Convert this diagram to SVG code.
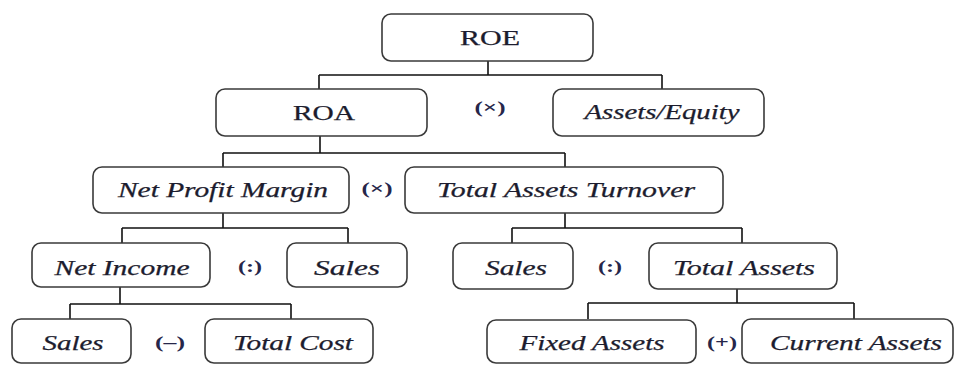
<svg xmlns="http://www.w3.org/2000/svg" width="955" height="365" viewBox="0 0 955 365">
<style>
.box{fill:#fff;stroke:#3a3a3a;stroke-width:1.6}
.lbl{font-family:"Liberation Serif","Times New Roman",serif;font-size:20px;fill:#1c1c2e;text-anchor:middle;stroke:#1c1c2e;stroke-width:0.25}
.it{font-style:italic}
.op{font-family:"Liberation Serif","Times New Roman",serif;font-size:16px;font-weight:bold;fill:#26264a;text-anchor:middle}
.con{fill:none;stroke:#111;stroke-width:1.6}
</style>
<rect width="955" height="365" fill="#fff"/>
<g id="connectors">
<path class="con" d="M488,61 V75 M319,75 H662 M319,75 V89 M662,75 V89"/>
<path class="con" d="M320,136 V153 M223,153 H565 M223,153 V167 M565,153 V167"/>
<path class="con" d="M223,213 V228 M122,228 H348 M122,228 V243 M348,228 V243"/>
<path class="con" d="M565,213 V228 M512,228 H742 M512,228 V243 M742,228 V243"/>
<path class="con" d="M120,287 V304 M70,304 H291 M70,304 V319 M291,304 V319"/>
<path class="con" d="M737,289 V303 M588,303 H854 M588,303 V319 M854,303 V319"/>
</g>
<g id="roe"><rect class="box" x="382" y="14" width="211" height="47" rx="9"/><text class="lbl" x="490" y="45" textLength="60" lengthAdjust="spacingAndGlyphs">ROE</text></g>
<g id="roa"><rect class="box" x="216" y="89" width="211" height="47" rx="9"/><text class="lbl" x="324" y="120" textLength="62" lengthAdjust="spacingAndGlyphs">ROA</text></g>
<g id="op1"><text class="op" x="490" y="113" textLength="31" lengthAdjust="spacingAndGlyphs">(×)</text></g>
<g id="assets-equity"><rect class="box" x="553" y="89" width="211" height="47" rx="9"/><text class="lbl it" x="662" y="119" textLength="155" lengthAdjust="spacingAndGlyphs">Assets/Equity</text></g>
<g id="npm"><rect class="box" x="93" y="167" width="256" height="46" rx="9"/><text class="lbl it" x="223" y="197" textLength="210" lengthAdjust="spacingAndGlyphs">Net Profit Margin</text></g>
<g id="op2"><text class="op" x="377" y="194" textLength="31" lengthAdjust="spacingAndGlyphs">(×)</text></g>
<g id="tat"><rect class="box" x="405" y="167" width="318" height="46" rx="9"/><text class="lbl it" x="566" y="197" textLength="258" lengthAdjust="spacingAndGlyphs">Total Assets Turnover</text></g>
<g id="net-income"><rect class="box" x="32" y="243" width="178" height="44" rx="9"/><text class="lbl it" x="122" y="275" textLength="135" lengthAdjust="spacingAndGlyphs">Net Income</text></g>
<g id="op3"><text class="op" x="250" y="272" textLength="24" lengthAdjust="spacingAndGlyphs">(:)</text></g>
<g id="sales1"><rect class="box" x="287" y="243" width="120" height="44" rx="9"/><text class="lbl it" x="347" y="275" textLength="66" lengthAdjust="spacingAndGlyphs">Sales</text></g>
<g id="sales2"><rect class="box" x="453" y="243" width="120" height="46" rx="9"/><text class="lbl it" x="516" y="275" textLength="62" lengthAdjust="spacingAndGlyphs">Sales</text></g>
<g id="op4"><text class="op" x="610" y="272" textLength="24" lengthAdjust="spacingAndGlyphs">(:)</text></g>
<g id="total-assets"><rect class="box" x="649" y="243" width="188" height="46" rx="9"/><text class="lbl it" x="744" y="275" textLength="142" lengthAdjust="spacingAndGlyphs">Total Assets</text></g>
<g id="sales3"><rect class="box" x="12" y="319" width="119" height="44" rx="9"/><text class="lbl it" x="73" y="350" textLength="61" lengthAdjust="spacingAndGlyphs">Sales</text></g>
<g id="op5"><text class="op" x="170" y="348" textLength="30" lengthAdjust="spacingAndGlyphs">(–)</text></g>
<g id="total-cost"><rect class="box" x="205" y="319" width="168" height="44" rx="9"/><text class="lbl it" x="293" y="350" textLength="120" lengthAdjust="spacingAndGlyphs">Total Cost</text></g>
<g id="fixed-assets"><rect class="box" x="487" y="320" width="209" height="43" rx="9"/><text class="lbl it" x="592" y="350" textLength="145" lengthAdjust="spacingAndGlyphs">Fixed Assets</text></g>
<g id="op6"><text class="op" x="722" y="348" textLength="30" lengthAdjust="spacingAndGlyphs">(+)</text></g>
<g id="current-assets"><rect class="box" x="742" y="319" width="211" height="44" rx="9"/><text class="lbl it" x="856" y="350" textLength="172" lengthAdjust="spacingAndGlyphs">Current Assets</text></g>
</svg>
